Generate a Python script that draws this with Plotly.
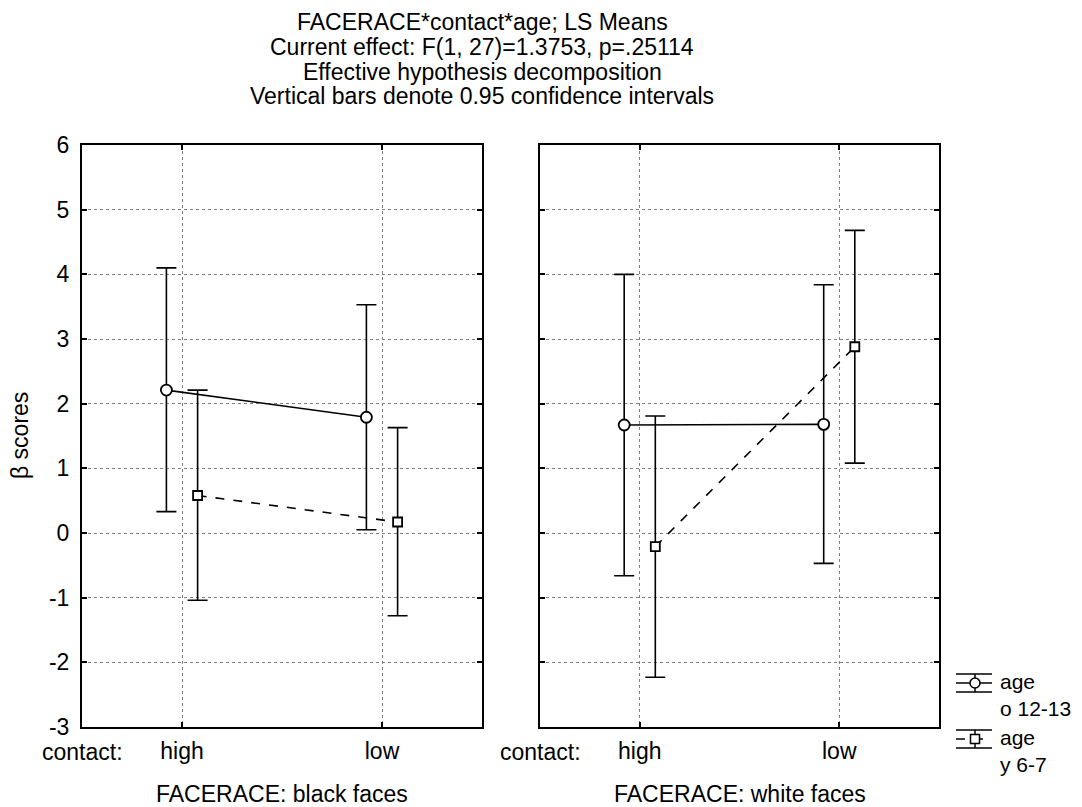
import plotly.graph_objects as go

contact = ["high", "low"]
contact_pos = [0, 1]
panels = ["FACERACE: black faces", "FACERACE: white faces"]

# age o 12-13 (circles)
old_mean = {"black": [2.21, 1.79], "white": [1.67, 1.68]}
old_low = {"black": [0.33, 0.05], "white": [-0.66, -0.47]}
old_high = {"black": [4.10, 3.53], "white": [4.00, 3.84]}
# age y 6-7 (squares)
young_mean = {"black": [0.58, 0.17], "white": [-0.21, 2.88]}
young_low = {"black": [-1.04, -1.28], "white": [-2.23, 1.08]}
young_high = {"black": [2.21, 1.63], "white": [1.81, 4.68]}

yticks = [-3, -2, -1, 0, 1, 2, 3, 4, 5, 6]
ytick_text = ["-3", "-2", "-1", "0", "1", "2", "3", "4", "5", "6"]
legend_labels = ["age<br>o 12-13", "age<br>y 6-7"]
FONT = "Liberation Sans, Arial, sans-serif"
FS = 23
OFF = 0.078

fig = go.Figure()
for i, key in enumerate(["black", "white"]):
    xa = "x" if i == 0 else "x2"
    ya = "y" if i == 0 else "y2"
    for mean, lo, hi, dx, sym, dash, size in [
        (old_mean, old_low, old_high, -OFF, "circle", "solid", 11),
        (young_mean, young_low, young_high, OFF, "square", "dash", 9),
    ]:
        m = mean[key]
        fig.add_trace(go.Scatter(
            x=[p + dx for p in contact_pos], y=m, xaxis=xa, yaxis=ya,
            mode="lines+markers", showlegend=False,
            line=dict(color="black", width=1.6, dash=dash),
            marker=dict(symbol=sym, size=size, color="white",
                        line=dict(width=1.8, color="black")),
            error_y=dict(type="data", symmetric=False,
                         array=[h - v for h, v in zip(hi[key], m)],
                         arrayminus=[v - l for v, l in zip(m, lo[key])],
                         color="black", thickness=1.6, width=10),
        ))

# page has an 8px body margin; work in page pixels and convert
OX, OY = 8, 8
W, H = 1082 - OX, 807 - OY
PL, PR, PT, PB = 82, 939, 145, 727  # plot area edges in page pixels
L, R, T, B = PL - OX, W - (PR - OX), PT - OY, H - (PB - OY)
pw = W - L - R
ph = H - T - B
d1 = (0, 400 / pw)
d2 = ((540 - PL) / pw, 1)

axcommon = dict(showline=True, linecolor="black", linewidth=2, mirror="ticks",
                ticks="inside", ticklen=5, tickwidth=1.5, tickcolor="black",
                showgrid=True, gridcolor="#808080", griddash="dot", gridwidth=1,
                zeroline=False, automargin=False,
                tickfont=dict(family=FONT, size=FS, color="black"))
fig.update_layout(
    width=W, height=H, margin=dict(l=L, r=R, t=T, b=B, autoexpand=False),
    plot_bgcolor="white", paper_bgcolor="white",
    font=dict(family=FONT, size=FS, color="black"),
    xaxis=dict(domain=d1, range=[-0.5, 1.5], tickvals=contact_pos, ticktext=contact,
               anchor="y", ticklabelstandoff=2, **axcommon),
    xaxis2=dict(domain=d2, range=[-0.5, 1.5], tickvals=contact_pos, ticktext=contact,
                anchor="y2", ticklabelstandoff=2, **axcommon),
    yaxis=dict(range=[-3, 6], tickvals=yticks, ticktext=ytick_text, anchor="x",
               ticklabelstandoff=6, **axcommon),
    yaxis2=dict(range=[-3, 6], tickvals=yticks, anchor="x2", side="right",
                showticklabels=False, **axcommon),
)

def px(xp):
    return (xp - PL) / pw
def py(yp):
    return (PB - yp) / ph

def txt(t, x, y, xanchor="center", angle=0, size=FS):
    fig.add_annotation(text=t, xref="paper", yref="paper", x=px(x), y=py(y),
                       showarrow=False, xanchor=xanchor, yanchor="middle",
                       textangle=angle, font=dict(size=size), borderpad=0,
                       align="left")

titles = ["FACERACE*contact*age; LS Means",
          "Current effect: F(1, 27)=1.3753, p=.25114",
          "Effective hypothesis decomposition",
          "Vertical bars denote 0.95 confidence intervals"]
for k, t in enumerate(titles):
    txt(t, 482, 22 + 24.8 * k)

txt("β scores", 20, 436, angle=-90)
for cx in [82, 540]:
    txt("contact:", cx, 752)
for cx, t in [(282, panels[0]), (740, panels[1])]:
    txt(t, cx, 794)

# legend (decoration)
def leg(yc, dash, sym):
    for dy in (-9, 9):
        fig.add_shape(type="line", xref="paper", yref="paper",
                      x0=px(956), x1=px(992), y0=py(yc + dy), y1=py(yc + dy),
                      line=dict(color="black", width=1.5))
    fig.add_shape(type="line", xref="paper", yref="paper",
                  x0=px(956), x1=px(992), y0=py(yc), y1=py(yc),
                  line=dict(color="black", width=1.5, dash=dash))
    fig.add_shape(type="line", xref="paper", yref="paper",
                  x0=px(975), x1=px(975), y0=py(yc - 9), y1=py(yc + 9),
                  line=dict(color="black", width=1.5))
    if sym == "circle":
        fig.add_shape(type="circle", xref="paper", yref="paper",
                      x0=px(970), x1=px(980), y0=py(yc - 5), y1=py(yc + 5),
                      fillcolor="white", line=dict(color="black", width=1.5))
    else:
        fig.add_shape(type="rect", xref="paper", yref="paper",
                      x0=px(970.5), x1=px(979.5), y0=py(yc - 4.5), y1=py(yc + 4.5),
                      fillcolor="white", line=dict(color="black", width=1.5))

leg(683, "solid", "circle")
leg(739, "dash", "square")
txt(legend_labels[0], 999, 695, xanchor="left", size=21)
txt(legend_labels[1], 999, 751, xanchor="left", size=21)

fig.write_html("out.html")
